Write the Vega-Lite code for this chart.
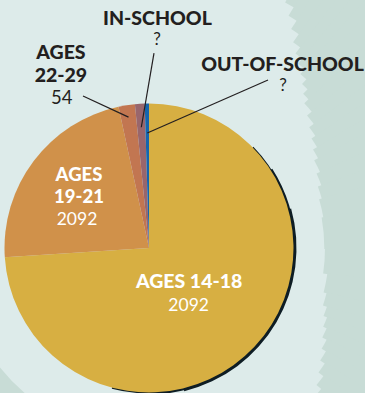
{
  "$schema": "https://vega.github.io/schema/vega-lite/v6.json",
  "width": 298,
  "height": 290,
  "autosize": {"type": "none"},
  "padding": {"left": 0, "top": 103, "right": 67, "bottom": 0},
  "background": "#DDEBEA",
  "config": {"view": {"stroke": null}, "font": "Lato", "arc": {"color": "#C8DCD6", "outerRadius": 700}},
  "data": {"values": [
    {"key": "y", "group": "AGES 14-18", "count": "2092", "share": 266.3, "order": 1},
    {"key": "o", "group": "AGES 19-21", "count": "2092", "share": 81.5, "order": 2},
    {"key": "r", "group": "AGES 22-29", "count": "54", "share": 6.6, "order": 3},
    {"key": "p", "group": "IN-SCHOOL", "count": "?", "share": 3.9, "order": 4},
    {"key": "b", "group": "OUT-OF-SCHOOL", "count": "?", "share": 1.7, "order": 5}
  ]},
  "transform": [
    {"stack": "share", "groupby": [], "sort": [{"field": "order", "order": "ascending"}], "as": ["s0", "s1"]},
    {"calculate": "(datum.s0 + datum.s1) / 2", "as": "mid"}
  ],
  "layer": [
    {"data": {"values": [{"part": "backdrop"}]}, "mark": {"type": "arc", "theta": 0.5061, "theta2": 0.5463, "innerRadius": 280.8}, "encoding": {}},
    {"data": {"values": [{"part": "backdrop"}]}, "mark": {"type": "arc", "theta": 0.5411, "theta2": 0.5812, "innerRadius": 270.9}, "encoding": {}},
    {"data": {"values": [{"part": "backdrop"}]}, "mark": {"type": "arc", "theta": 0.5760, "theta2": 0.6161, "innerRadius": 261.0}, "encoding": {}},
    {"data": {"values": [{"part": "backdrop"}]}, "mark": {"type": "arc", "theta": 0.6109, "theta2": 0.6510, "innerRadius": 251.2}, "encoding": {}},
    {"data": {"values": [{"part": "backdrop"}]}, "mark": {"type": "arc", "theta": 0.6458, "theta2": 0.6859, "innerRadius": 243.4}, "encoding": {}},
    {"data": {"values": [{"part": "backdrop"}]}, "mark": {"type": "arc", "theta": 0.6807, "theta2": 0.7208, "innerRadius": 237.1}, "encoding": {}},
    {"data": {"values": [{"part": "backdrop"}]}, "mark": {"type": "arc", "theta": 0.7156, "theta2": 0.7557, "innerRadius": 230.7}, "encoding": {}},
    {"data": {"values": [{"part": "backdrop"}]}, "mark": {"type": "arc", "theta": 0.7505, "theta2": 0.7906, "innerRadius": 224.4}, "encoding": {}},
    {"data": {"values": [{"part": "backdrop"}]}, "mark": {"type": "arc", "theta": 0.7854, "theta2": 0.8255, "innerRadius": 218.0}, "encoding": {}},
    {"data": {"values": [{"part": "backdrop"}]}, "mark": {"type": "arc", "theta": 0.8203, "theta2": 0.8779, "innerRadius": 212.3}, "encoding": {}},
    {"data": {"values": [{"part": "backdrop"}]}, "mark": {"type": "arc", "theta": 0.8727, "theta2": 0.9303, "innerRadius": 206.3}, "encoding": {}},
    {"data": {"values": [{"part": "backdrop"}]}, "mark": {"type": "arc", "theta": 0.9250, "theta2": 0.9826, "innerRadius": 200.6}, "encoding": {}},
    {"data": {"values": [{"part": "backdrop"}]}, "mark": {"type": "arc", "theta": 0.9774, "theta2": 1.0350, "innerRadius": 196.0}, "encoding": {}},
    {"data": {"values": [{"part": "backdrop"}]}, "mark": {"type": "arc", "theta": 1.0297, "theta2": 1.0873, "innerRadius": 191.4}, "encoding": {}},
    {"data": {"values": [{"part": "backdrop"}]}, "mark": {"type": "arc", "theta": 1.0821, "theta2": 1.1572, "innerRadius": 187.1}, "encoding": {}},
    {"data": {"values": [{"part": "backdrop"}]}, "mark": {"type": "arc", "theta": 1.1519, "theta2": 1.2270, "innerRadius": 183.4}, "encoding": {}},
    {"data": {"values": [{"part": "backdrop"}]}, "mark": {"type": "arc", "theta": 1.2217, "theta2": 1.2968, "innerRadius": 179.7}, "encoding": {}},
    {"data": {"values": [{"part": "backdrop"}]}, "mark": {"type": "arc", "theta": 1.2915, "theta2": 1.4015, "innerRadius": 177.0}, "encoding": {}},
    {"data": {"values": [{"part": "backdrop"}]}, "mark": {"type": "arc", "theta": 1.3963, "theta2": 1.5760, "innerRadius": 175.3}, "encoding": {}},
    {"data": {"values": [{"part": "backdrop"}]}, "mark": {"type": "arc", "theta": 1.5708, "theta2": 1.7157, "innerRadius": 176.0}, "encoding": {}},
    {"data": {"values": [{"part": "backdrop"}]}, "mark": {"type": "arc", "theta": 1.7104, "theta2": 1.8204, "innerRadius": 180.2}, "encoding": {}},
    {"data": {"values": [{"part": "backdrop"}]}, "mark": {"type": "arc", "theta": 1.8151, "theta2": 1.8902, "innerRadius": 183.2}, "encoding": {}},
    {"data": {"values": [{"part": "backdrop"}]}, "mark": {"type": "arc", "theta": 1.8850, "theta2": 1.9425, "innerRadius": 187.3}, "encoding": {}},
    {"data": {"values": [{"part": "backdrop"}]}, "mark": {"type": "arc", "theta": 1.9373, "theta2": 1.9949, "innerRadius": 191.1}, "encoding": {}},
    {"data": {"values": [{"part": "backdrop"}]}, "mark": {"type": "arc", "theta": 1.9897, "theta2": 2.0473, "innerRadius": 195.0}, "encoding": {}},
    {"data": {"values": [{"part": "backdrop"}]}, "mark": {"type": "arc", "theta": 2.0420, "theta2": 2.0996, "innerRadius": 199.9}, "encoding": {}},
    {"data": {"values": [{"part": "backdrop"}]}, "mark": {"type": "arc", "theta": 2.0944, "theta2": 2.1520, "innerRadius": 204.8}, "encoding": {}},
    {"data": {"values": [{"part": "backdrop"}]}, "mark": {"type": "arc", "theta": 2.1468, "theta2": 2.2044, "innerRadius": 210.3}, "encoding": {}},
    {"data": {"values": [{"part": "backdrop"}]}, "mark": {"type": "arc", "theta": 2.1991, "theta2": 2.2567, "innerRadius": 216.4}, "encoding": {}},
    {"data": {"values": [{"part": "backdrop"}]}, "mark": {"type": "arc", "theta": 2.2515, "theta2": 2.3091, "innerRadius": 222.5}, "encoding": {}},
    {"data": {"values": [{"part": "backdrop"}]}, "mark": {"type": "arc", "theta": 3.752, "theta2": 4.189, "innerRadius": 191}, "encoding": {}},
    {"data": {"values": [{"part": "shadow"}]}, "mark": {"type": "arc", "theta": 0.80, "theta2": 3.40, "innerRadius": 130, "outerRadius": 145.5, "color": "#0E1D24"}, "encoding": {}},
    {"data": {"values": [{"part": "shadow"}]}, "mark": {"type": "arc", "theta": 1.0, "theta2": 3.2, "innerRadius": 130, "outerRadius": 146.5, "color": "#0E1D24"}, "encoding": {}},
    {"data": {"values": [{"part": "shadow"}]}, "mark": {"type": "arc", "theta": 1.3, "theta2": 2.9, "innerRadius": 130, "outerRadius": 147.5, "color": "#0E1D24"}, "encoding": {}},
    {
      "mark": {"type": "arc", "outerRadius": 144.5},
      "encoding": {
        "theta": {"field": "s0", "type": "quantitative", "stack": null, "scale": {"domain": [0, 360]}},
        "theta2": {"field": "s1"},
        "color": {"field": "key", "type": "nominal", "legend": null,
          "scale": {"domain": ["y", "o", "r", "p", "b"], "range": ["#D7AF42", "#D0914A", "#C27651", "#99666C", "#1565AE"]}}
      }
    },
    {
      "transform": [
        {"filter": "datum.key == 'r'"},
        {"calculate": "132.5 * sin(datum.mid * PI / 180)", "as": "ix"},
        {"calculate": "132.5 * cos(datum.mid * PI / 180)", "as": "iy"},
        {"calculate": "datum.ix - 45.5", "as": "ox"},
        {"calculate": "datum.iy + 21.1", "as": "oy"}
      ],
      "mark": {"type": "rule", "color": "#231F20", "strokeWidth": 1.2},
      "encoding": {
        "x": {"field": "ix", "type": "quantitative", "axis": null, "scale": {"domain": [-149, 149], "nice": false, "zero": false}},
        "y": {"field": "iy", "type": "quantitative", "axis": null, "scale": {"domain": [-145, 145], "nice": false, "zero": false}},
        "x2": {"field": "ox"},
        "y2": {"field": "oy"}
      }
    },
    {
      "transform": [
        {"filter": "datum.key == 'p'"},
        {"calculate": "121 * sin(datum.mid * PI / 180)", "as": "ix"},
        {"calculate": "121 * cos(datum.mid * PI / 180)", "as": "iy"},
        {"calculate": "datum.ix + 12.7", "as": "ox"},
        {"calculate": "datum.iy + 74.2", "as": "oy"}
      ],
      "mark": {"type": "rule", "color": "#231F20", "strokeWidth": 1.2},
      "encoding": {
        "x": {"field": "ix", "type": "quantitative", "axis": null, "scale": {"domain": [-149, 149], "nice": false, "zero": false}},
        "y": {"field": "iy", "type": "quantitative", "axis": null, "scale": {"domain": [-145, 145], "nice": false, "zero": false}},
        "x2": {"field": "ox"},
        "y2": {"field": "oy"}
      }
    },
    {
      "transform": [
        {"filter": "datum.key == 'b'"},
        {"calculate": "115 * sin(datum.mid * PI / 180)", "as": "ix"},
        {"calculate": "115 * cos(datum.mid * PI / 180)", "as": "iy"},
        {"calculate": "datum.ix + 120.7", "as": "ox"},
        {"calculate": "datum.iy + 53", "as": "oy"}
      ],
      "mark": {"type": "rule", "color": "#231F20", "strokeWidth": 1.2},
      "encoding": {
        "x": {"field": "ix", "type": "quantitative", "axis": null, "scale": {"domain": [-149, 149], "nice": false, "zero": false}},
        "y": {"field": "iy", "type": "quantitative", "axis": null, "scale": {"domain": [-145, 145], "nice": false, "zero": false}},
        "x2": {"field": "ox"},
        "y2": {"field": "oy"}
      }
    },
    {
      "transform": [{"filter": "datum.key == 'y'"}],
      "mark": {"type": "text", "radius": 55, "dx": 0, "dy": -4, "fontSize": 19.5, "fontWeight": 900, "color": "white", "align": "center", "baseline": "middle"},
      "encoding": {"theta": {"field": "mid", "type": "quantitative", "stack": null}, "text": {"field": "group"}}
    },
    {
      "transform": [{"filter": "datum.key == 'y'"}],
      "mark": {"type": "text", "radius": 55, "dx": -0.5, "dy": 20, "fontSize": 17.5, "fontWeight": "normal", "color": "white", "align": "center", "baseline": "middle"},
      "encoding": {"theta": {"field": "mid", "type": "quantitative", "stack": null}, "text": {"field": "count"}}
    },
    {
      "transform": [{"filter": "datum.key == 'o'"}],
      "mark": {"type": "text", "radius": 87.7, "dx": 0, "dy": -20.5, "lineBreak": " ", "lineHeight": 22.6, "fontSize": 18.5, "fontWeight": 900, "color": "white", "align": "center", "baseline": "middle"},
      "encoding": {"theta": {"field": "mid", "type": "quantitative", "stack": null}, "text": {"field": "group"}}
    },
    {
      "transform": [{"filter": "datum.key == 'o'"}],
      "mark": {"type": "text", "radius": 87.7, "dx": -2, "dy": 25, "fontSize": 17.5, "fontWeight": "normal", "color": "white", "align": "center", "baseline": "middle"},
      "encoding": {"theta": {"field": "mid", "type": "quantitative", "stack": null}, "text": {"field": "count"}}
    },
    {
      "transform": [{"filter": "datum.key == 'r'"}],
      "mark": {"type": "text", "radius": 175, "dx": -61, "dy": -22.4, "lineBreak": " ", "lineHeight": 23, "fontSize": 19.5, "fontWeight": 900, "color": "#231F20", "align": "center", "baseline": "middle"},
      "encoding": {"theta": {"field": "mid", "type": "quantitative", "stack": null}, "text": {"field": "group"}}
    },
    {
      "transform": [{"filter": "datum.key == 'r'"}],
      "mark": {"type": "text", "radius": 175, "dx": -60.2, "dy": 22.6, "fontSize": 18.5, "fontWeight": "normal", "color": "#231F20", "align": "center", "baseline": "middle"},
      "encoding": {"theta": {"field": "mid", "type": "quantitative", "stack": null}, "text": {"field": "count"}}
    },
    {
      "transform": [{"filter": "datum.key == 'p'"}],
      "mark": {"type": "text", "radius": 200, "dx": 21.2, "dy": -29, "fontSize": 19.5, "fontWeight": 900, "color": "#231F20", "align": "center", "baseline": "middle"},
      "encoding": {"theta": {"field": "mid", "type": "quantitative", "stack": null}, "text": {"field": "group"}}
    },
    {
      "transform": [{"filter": "datum.key == 'p'"}],
      "mark": {"type": "text", "radius": 200, "dx": 20.7, "dy": -8.4, "fontSize": 17, "fontWeight": "normal", "color": "#231F20", "align": "center", "baseline": "middle"},
      "encoding": {"theta": {"field": "mid", "type": "quantitative", "stack": null}, "text": {"field": "count"}}
    },
    {
      "transform": [{"filter": "datum.key == 'b'"}],
      "mark": {"type": "text", "radius": 180, "dx": 136.2, "dy": -3.5, "fontSize": 19.5, "fontWeight": 900, "color": "#231F20", "align": "center", "baseline": "middle"},
      "encoding": {"theta": {"field": "mid", "type": "quantitative", "stack": null}, "text": {"field": "group"}}
    },
    {
      "transform": [{"filter": "datum.key == 'b'"}],
      "mark": {"type": "text", "radius": 180, "dx": 136.7, "dy": 18.3, "fontSize": 17, "fontWeight": "normal", "color": "#231F20", "align": "center", "baseline": "middle"},
      "encoding": {"theta": {"field": "mid", "type": "quantitative", "stack": null}, "text": {"field": "count"}}
    }
  ]
}
